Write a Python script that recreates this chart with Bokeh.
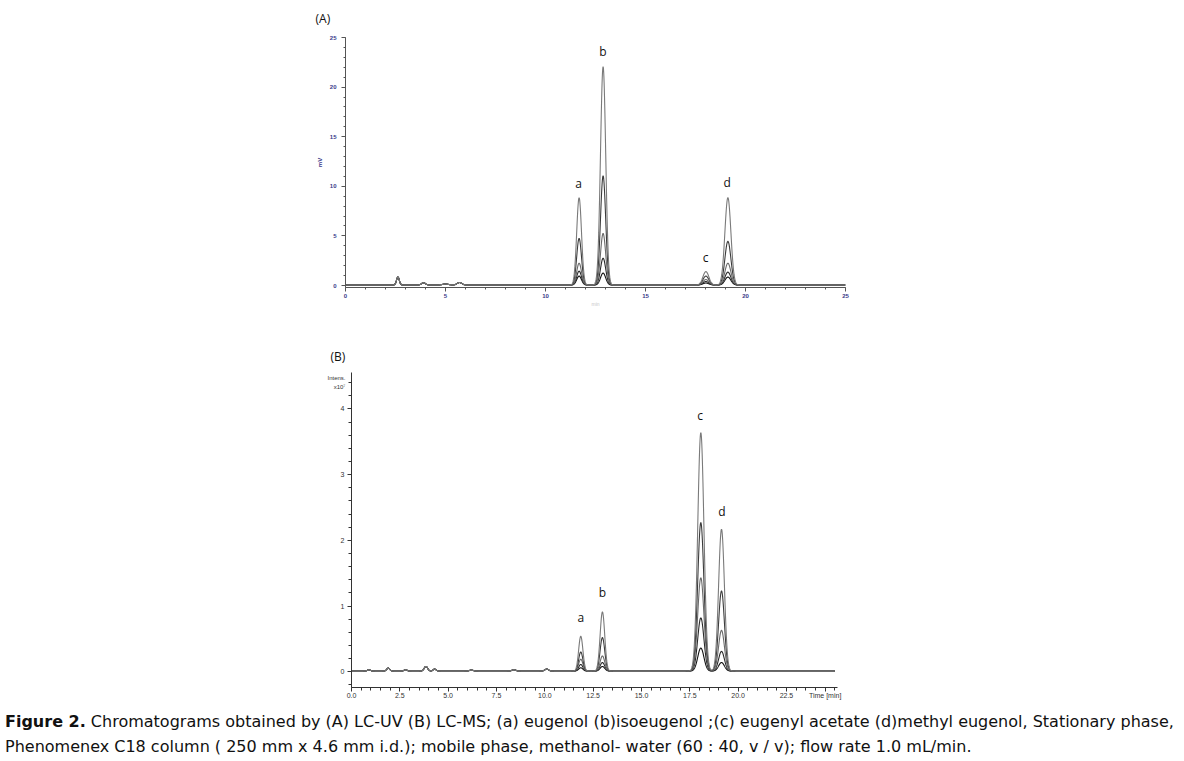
import numpy as np
from bokeh.plotting import figure
from bokeh.layouts import column, row
from bokeh.models import Div, ColumnDataSource, FixedTicker, Range1d, LinearAxis, Spacer
from bokeh.core.properties import value
from bokeh.embed import file_html
from bokeh.resources import INLINE

# ---------------- data ----------------
# (A) LC-UV : retention times (min), peak heights (mV) per standard level, widths (min)
uv_peaks = ["a", "b", "c", "d"]
uv_rt = [11.68, 12.88, 18.02, 19.12]
uv_sigma = [0.12, 0.13, 0.15, 0.15]
uv_h_level1 = [8.8, 22.0, 1.35, 8.8]
uv_h_level2 = [4.7, 11.0, 0.90, 4.4]
uv_h_level3 = [2.2, 5.2, 0.55, 2.2]
uv_h_level4 = [1.4, 2.7, 0.35, 1.3]
uv_h_level5 = [0.9, 1.2, 0.20, 0.8]
uv_minor_rt = [2.62, 3.9, 5.0, 5.7]
uv_minor_h = [0.8, 0.22, 0.1, 0.25]
uv_minor_sigma = [0.07, 0.1, 0.15, 0.12]
uv_baseline = 0.05
uv_label_x = [11.65, 12.87, 18.0, 19.08]
uv_label_y = [10.3, 23.6, 2.8, 10.4]

# (B) LC-MS : intensities (x10^7)
ms_peaks = ["a", "b", "c", "d"]
ms_rt = [11.86, 12.98, 18.07, 19.14]
ms_sigma = [0.11, 0.12, 0.16, 0.15]
ms_h_level1 = [0.53, 0.90, 3.63, 2.16]
ms_h_level2 = [0.29, 0.51, 2.26, 1.22]
ms_h_level3 = [0.18, 0.23, 1.42, 0.62]
ms_h_level4 = [0.10, 0.13, 0.81, 0.30]
ms_h_level5 = [0.05, 0.07, 0.35, 0.13]
ms_minor_rt = [0.9, 1.9, 2.8, 3.85, 4.3, 6.2, 8.4, 10.1]
ms_minor_h = [0.02, 0.045, 0.02, 0.07, 0.03, 0.015, 0.02, 0.03]
ms_minor_sigma = [0.08, 0.08, 0.08, 0.09, 0.08, 0.1, 0.1, 0.1]
ms_baseline = 0.01
ms_label_x = [11.86, 12.98, 18.03, 19.16]
ms_label_y = [0.82, 1.2, 3.9, 2.44]

trace_colors = ["#7a7a7a", "#3c3c3c", "#6a6a6a", "#2a2a2a", "#111111"]

uv_x_ticks = [0, 5, 10, 15, 20, 25]
uv_y_ticks = [0, 5, 10, 15, 20, 25]
ms_x_ticks = [0.0, 2.5, 5.0, 7.5, 10.0, 12.5, 15.0, 17.5, 20.0, 22.5]
ms_x_unit_pos = 24.5
ms_x_unit = "Time [min]"
ms_y_ticks = [0, 1, 2, 3, 4]
ms_y_unit_pos = [4.47, 4.33]
ms_y_unit = ["Intens.", "x10\u2077"]

caption_bold = "Figure 2."
caption_line1 = (" Chromatograms obtained by (A) LC-UV (B) LC-MS; (a) eugenol (b)isoeugenol ;"
                 "(c) eugenyl acetate (d)methyl eugenol, Stationary phase,")
caption_line2 = ("Phenomenex C18 column ( 250 mm x 4.6 mm i.d.); mobile phase, methanol- water "
                 "(60 : 40, v / v); flow rate 1.0 mL/min.")


def trace(t, rts, sigmas, heights, mrt, mh, ms, base):
    y = np.full_like(t, base)
    for r, s, h in zip(rts, sigmas, heights):
        y += h * np.exp(-0.5 * ((t - r) / s) ** 2)
    for r, h, s in zip(mrt, mh, ms):
        y += h * np.exp(-0.5 * ((t - r) / s) ** 2)
    return y


t = np.linspace(0, 25, 2501)

# ---------------- (A) LC-UV ----------------
pA = figure(width=870, height=317, x_range=Range1d(0, 25), y_range=Range1d(-0.2, 25),
            output_backend="svg", toolbar_location=None, title="(A)",
            min_border_left=345, min_border_right=25, min_border_top=35, min_border_bottom=30)
pA.outline_line_color = None
pA.grid.visible = False
pA.title.align = "left"
pA.title.vertical_align = "top"
pA.title.offset = -30
pA.title.standoff = 18
pA.title.text_font = "Open Sans"
pA.title.text_font_size = "12px"
pA.title.text_font_style = "normal"
pA.title.text_color = "#111111"

uv_levels = [uv_h_level1, uv_h_level2, uv_h_level3, uv_h_level4, uv_h_level5]
for i, lev in enumerate(reversed(uv_levels)):
    y = trace(t, uv_rt, uv_sigma, lev, uv_minor_rt, uv_minor_h, uv_minor_sigma, uv_baseline)
    pA.line(t, y, line_color=trace_colors[len(uv_levels) - 1 - i], line_width=1.1)

navy = "#3a3a8a"
for ax in (pA.xaxis[0], pA.yaxis[0]):
    ax.axis_line_color = "#555555"
    ax.major_tick_line_color = "#555555"
    ax.minor_tick_line_color = "#555555"
    ax.major_label_text_color = navy
    ax.major_label_text_font_size = "6px"
    ax.major_label_text_font_style = "bold"
    ax.major_tick_out = 4
    ax.major_tick_in = 0
    ax.minor_tick_out = 2
    ax.minor_tick_in = 0
pA.xaxis[0].major_label_standoff = 2
pA.xaxis[0].ticker = FixedTicker(ticks=uv_x_ticks, minor_ticks=list(range(0, 26)))
pA.yaxis[0].ticker = FixedTicker(ticks=uv_y_ticks, minor_ticks=list(range(0, 26)))
pA.yaxis[0].axis_label = "mV"
pA.yaxis[0].axis_label_text_font_size = "6px"
pA.yaxis[0].axis_label_text_color = navy
pA.yaxis[0].axis_label_text_font_style = "bold"
pA.yaxis[0].axis_label_standoff = 4
pA.xaxis[0].axis_label = "min"
pA.xaxis[0].axis_label_text_font_size = "5px"
pA.xaxis[0].axis_label_text_color = "#c8c8c8"
pA.xaxis[0].axis_label_text_font_style = "normal"
pA.xaxis[0].axis_label_standoff = 0

srcA = ColumnDataSource(dict(x=uv_label_x, y=uv_label_y, t=uv_peaks))
pA.text(x="x", y="y", text="t", source=srcA, text_font=value("Open Sans"),
        text_font_size="12px", text_align="center", text_baseline="middle", text_color="#111111")

# ---------------- (B) LC-MS ----------------
pB = figure(width=856, height=387, x_range=Range1d(0, 25.14), y_range=Range1d(-0.24, 4.555),
            output_backend="svg", toolbar_location=None, title="(B)",
            min_border_left=345, min_border_right=25, min_border_top=55, min_border_bottom=17)
pB.outline_line_color = None
pB.grid.visible = False
pB.title.align = "left"
pB.title.offset = -21
pB.title.standoff = 15
pB.title.text_font = "Open Sans"
pB.title.text_font_size = "12px"
pB.title.text_font_style = "normal"
pB.title.text_color = "#111111"

ms_levels = [ms_h_level1, ms_h_level2, ms_h_level3, ms_h_level4, ms_h_level5]
for i, lev in enumerate(reversed(ms_levels)):
    y = trace(t, ms_rt, ms_sigma, lev, ms_minor_rt, ms_minor_h, ms_minor_sigma, ms_baseline)
    pB.line(t, y, line_color=trace_colors[len(ms_levels) - 1 - i], line_width=1.1)

for ax in (pB.xaxis[0], pB.yaxis[0]):
    ax.axis_line_color = "#333333"
    ax.major_tick_line_color = "#333333"
    ax.minor_tick_line_color = "#333333"
    ax.major_label_text_color = "#333333"
    ax.major_label_text_font_size = "7px"
    ax.major_tick_out = 4
    ax.major_tick_in = 0
    ax.minor_tick_out = 3
    ax.minor_tick_in = 0
pB.xaxis[0].major_label_standoff = 0
pB.xaxis[0].ticker = FixedTicker(ticks=ms_x_ticks + [ms_x_unit_pos],
                                 minor_ticks=[i * 0.5 for i in range(0, 51)])
overrides = {v: f"{v:.1f}" for v in ms_x_ticks}
overrides[ms_x_unit_pos] = ms_x_unit
pB.xaxis[0].major_label_overrides = overrides
pB.yaxis[0].major_label_standoff = 3
pB.yaxis[0].ticker = FixedTicker(ticks=ms_y_ticks, minor_ticks=[i * 0.2 - 0.2 for i in range(0, 24)])

unit_axis = LinearAxis(ticker=FixedTicker(ticks=ms_y_unit_pos),
                       major_label_overrides={p: s for p, s in zip(ms_y_unit_pos, ms_y_unit)})
unit_axis.axis_line_color = None
unit_axis.major_tick_line_color = None
unit_axis.minor_tick_line_color = None
unit_axis.major_tick_out = 0
unit_axis.major_tick_in = 0
unit_axis.major_label_text_font_size = "6px"
unit_axis.major_label_text_color = "#333333"
unit_axis.major_label_standoff = -8
pB.add_layout(unit_axis, "left")

srcB = ColumnDataSource(dict(x=ms_label_x, y=ms_label_y, t=ms_peaks))
pB.text(x="x", y="y", text="t", source=srcB, text_font=value("Open Sans"),
        text_font_size="12px", text_align="center", text_baseline="middle", text_color="#111111")

# ---------------- caption ----------------
cap = Div(text=f"<div style=\"font-family:'DejaVu Sans';font-size:16px;line-height:25px;"
               f"white-space:nowrap;color:#111;\"><b>{caption_bold}</b>{caption_line1}<br>"
               f"{caption_line2}</div>", width=1168)

layout = column(pA, row(Spacer(width=6, height=10), pB, spacing=0), cap, spacing=0)
open("out.html", "w").write(file_html(layout, INLINE))
